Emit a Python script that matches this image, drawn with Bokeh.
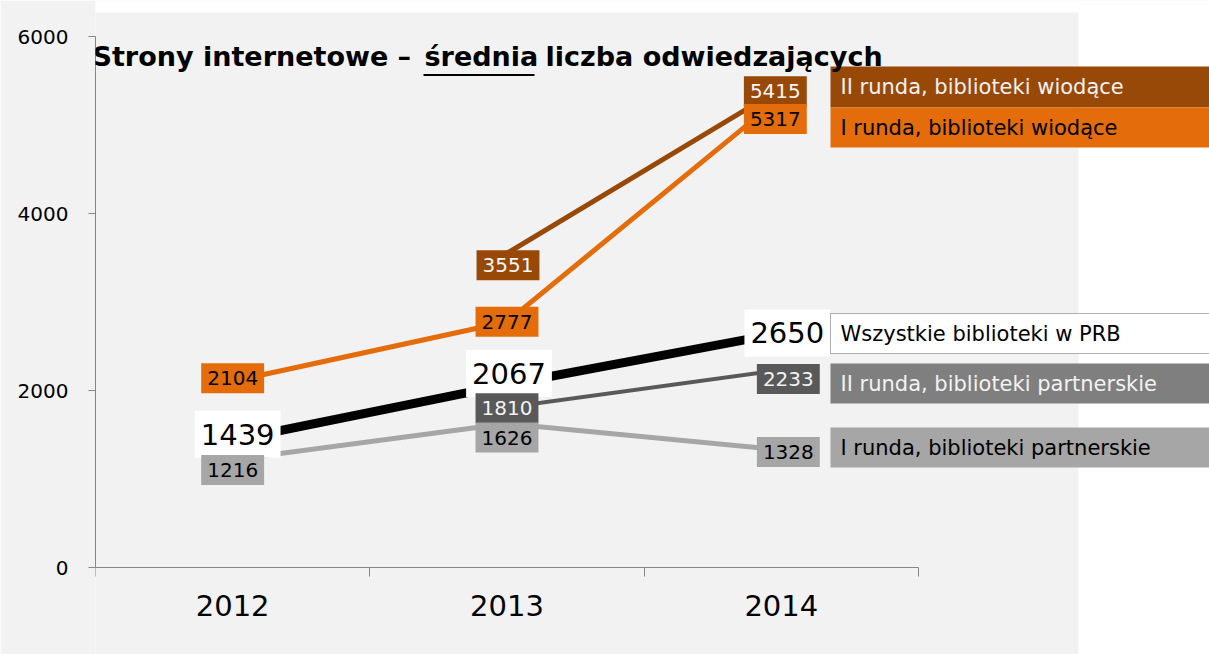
from bokeh.plotting import figure
from bokeh.models import Label, BoxAnnotation, FixedTicker, Range1d
from bokeh.embed import file_html
from bokeh.resources import INLINE

nan = float("nan")

# ---- data ----
years = ["2012", "2013", "2014"]
series_names = [
    "II runda, biblioteki wiodące",
    "I runda, biblioteki wiodące",
    "Wszystkie biblioteki w PRB",
    "II runda, biblioteki partnerskie",
    "I runda, biblioteki partnerskie",
]
r2_lead = [nan, 3551, 5415]
r1_lead = [2104, 2777, 5317]
all_prb = [1439, 2067, 2650]
r2_part = [nan, 1810, 2233]
r1_part = [1216, 1626, 1328]
y_ticks = [0, 2000, 4000, 6000]
y_tick_labels = ["0", "2000", "4000", "6000"]
title_parts = ["Strony internetowe –", "średnia", "liczba odwiedzających"]

# ---- styles / layout ----
W, H = 1209, 654
GRAY_BG = "#f2f2f2"
styles = [
    dict(line="#984807", lw=5, lbg="#984807", ltc="#f8f8f8", gbg="#984807", gtc="#f2f2f2", big=False),
    dict(line="#e46c0a", lw=5, lbg="#e46c0a", ltc="#000000", gbg="#e46c0a", gtc="#000000", big=False),
    dict(line="#000000", lw=9, lbg="#ffffff", ltc="#000000", gbg="#ffffff", gtc="#000000", big=True),
    dict(line="#595959", lw=4, lbg="#595959", ltc="#f2f2f2", gbg="#7f7f7f", gtc="#f2f2f2", big=False),
    dict(line="#a6a6a6", lw=5, lbg="#a6a6a6", ltc="#000000", gbg="#a6a6a6", gtc="#000000", big=False),
]
offsets = [
    [(0, 0), (1, -12), (-6, -3)],
    [(0, 3), (0, 0), (-6, -22)],
    [(5, 6), (2, 11), (6, 0)],
    [(0, 0), (0, -1), (7, -9)],
    [(0, -10), (0, -14), (7, -2)],
]
legend_boxes = [(66, 107), (107, 147), (313, 353), (363, 403), (427, 467)]

LEFT = 95
AXIS_Y = 567  # canvas y of the value 0
X_PER = 274.33
Y_PER = 531.0 / 6000.0


def dx(px):
    return 0.5 + (px - LEFT) / X_PER


def dy(py):
    return (AXIS_Y - py) / Y_PER


FONT = "DejaVu Sans"
frame_w = W - LEFT

p = figure(
    width=W, height=H, output_backend="svg", toolbar_location=None,
    x_range=Range1d(0.5, 0.5 + frame_w / X_PER),
    y_range=Range1d(dy(H), dy(0)),
    min_border_left=LEFT, min_border_right=0, min_border_top=0, min_border_bottom=0,
    background_fill_color=GRAY_BG, border_fill_color=GRAY_BG,
    outline_line_color=None,
)
p.grid.visible = False

# white margins around grey panel
for l, r, t, b in [(1078, W, 0, H), (0, W, 0, 12), (0, 12, 0, H)]:
    p.add_layout(BoxAnnotation(left=l, right=r, top=t, bottom=b,
                               left_units="canvas", right_units="canvas",
                               top_units="canvas", bottom_units="canvas",
                               fill_color="white", fill_alpha=1, line_color=None,
                               level="underlay"))

# axes
ax = p.xaxis[0]
ax.fixed_location = 0
ax.ticker = FixedTicker(ticks=[1, 2, 3], minor_ticks=[0.5, 1.5, 2.5, 3.5])
ax.major_label_overrides = {i + 1: y for i, y in enumerate(years)}
ax.bounds = (0.5, 3.5)
ax.axis_line_color = "#868686"
ax.major_tick_line_color = None
ax.major_tick_out = 0
ax.major_tick_in = 0
ax.minor_tick_line_color = "#868686"
ax.minor_tick_out = 9
ax.minor_tick_in = 0
ax.major_label_text_font = FONT
ax.major_label_text_font_size = "29px"
ax.major_label_text_color = "black"
ax.major_label_standoff = 18

ay = p.yaxis[0]
ay.ticker = FixedTicker(ticks=y_ticks, minor_ticks=[])
ay.major_label_overrides = {t: l for t, l in zip(y_ticks, y_tick_labels)}
ay.bounds = (0, 6000)
ay.axis_line_color = "#868686"
ay.major_tick_line_color = "#868686"
ay.major_tick_out = 7
ay.major_tick_in = 0
ay.minor_tick_line_color = None
ay.major_label_text_font = FONT
ay.major_label_text_font_size = "20px"
ay.major_label_text_color = "black"
ay.major_label_standoff = 20

xs = [1, 2, 3]
all_series = [r2_lead, r1_lead, all_prb, r2_part, r1_part]
draw_order = [4, 3, 1, 0, 2]
for i in draw_order:
    st = styles[i]
    p.line(xs, all_series[i], line_color=st["line"], line_width=st["lw"])

for i, vals in enumerate(all_series):
    st = styles[i]
    for j, v in enumerate(vals):
        if v != v:
            continue
        ox, oy = offsets[i][j]
        if st["big"]:
            fs, pad = "29px", dict(left=6, right=6, top=13, bottom=13)
        else:
            fs, pad = "20px", dict(left=6, right=6, top=8, bottom=8)
        p.add_layout(Label(x=xs[j], y=v, x_offset=ox, y_offset=oy, text=str(v),
                           text_font=FONT, text_font_size=fs, text_color=st["ltc"],
                           text_align="center", text_baseline="middle",
                           background_fill_color=st["lbg"], padding=pad))

# legend boxes
for i, name in enumerate(series_names):
    st = styles[i]
    t, b = legend_boxes[i]
    p.add_layout(BoxAnnotation(left=dx(830), top=dy(t), bottom=dy(b),
                               fill_color=st["gbg"], fill_alpha=1,
                               line_color="black" if st["big"] else None, line_width=1))
    p.add_layout(Label(x=dx(840), y=dy((t + b) / 2), text=name, text_font=FONT,
                       text_font_size="21px", text_color=st["gtc"],
                       text_align="left", text_baseline="middle"))

# title
title_x = [92, 424, 545]
for tx, part in zip(title_x, title_parts):
    p.add_layout(Label(x=dx(tx), y=dy(56), text=part, text_font=FONT,
                       text_font_size="27px", text_font_style="bold", text_color="black",
                       text_align="left", text_baseline="middle"))
p.add_layout(BoxAnnotation(left=dx(423), right=dx(534), top=dy(73.5), bottom=dy(75.5),
                           fill_color="black", fill_alpha=1, line_color=None))

open("out.html", "w").write(file_html(p, INLINE))
